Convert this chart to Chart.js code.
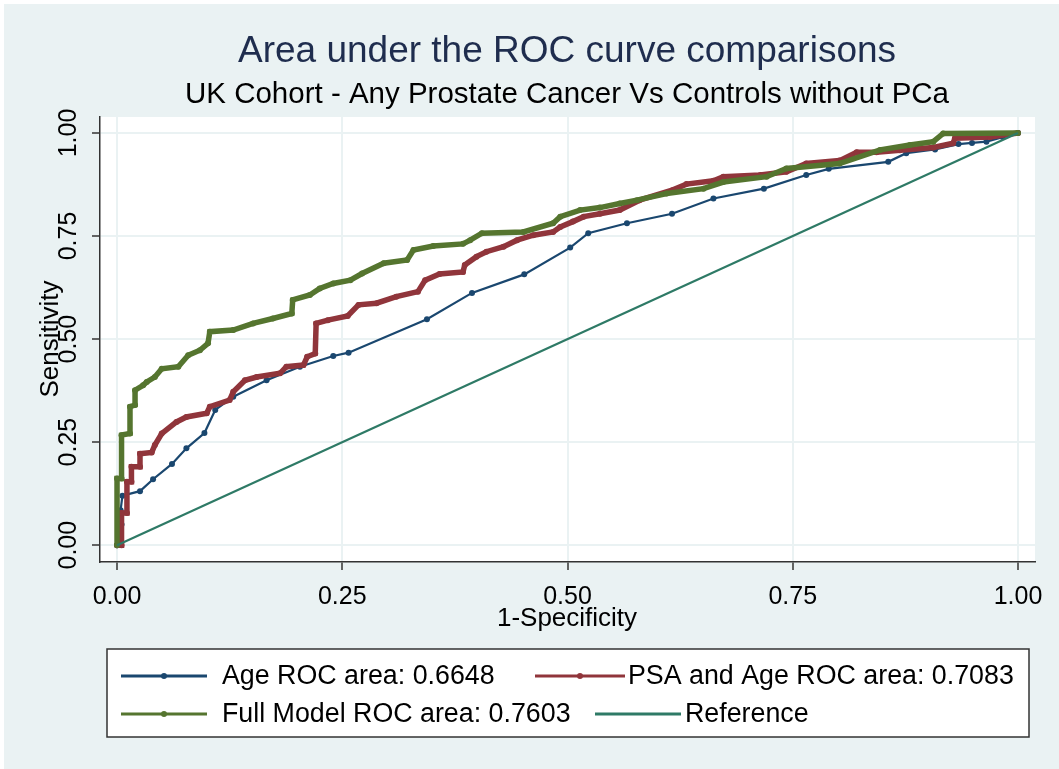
<!DOCTYPE html>
<html>
<head>
<meta charset="utf-8">
<title>Area under the ROC curve comparisons</title>
<script src="https://cdn.jsdelivr.net/npm/chart.js@4.4.1/dist/chart.umd.min.js"></script>
<style>
    html, body { margin: 0; padding: 0; background: #ffffff; }
    canvas { display: block; }
</style>
</head>
<body>
<canvas id="rocChart" width="1059" height="769"></canvas>
<script>
//data//
var xTicks = [0, 0.25, 0.5, 0.75, 1];
var yTicks = [0, 0.25, 0.5, 0.75, 1];

var ageX = [0, 0.004, 0.005, 0.004, 0.006, 0.0255, 0.040, 0.061, 0.077, 0.097, 0.109, 0.129, 0.166, 0.203, 0.240, 0.257, 0.344, 0.394, 0.452, 0.503, 0.523, 0.566, 0.616, 0.662, 0.718, 0.765, 0.790, 0.856, 0.876, 0.908, 0.934, 0.949, 0.965, 0.983, 1];
var ageY = [0, 0.025, 0.05, 0.085, 0.12, 0.131, 0.16, 0.197, 0.235, 0.272, 0.328, 0.36, 0.40, 0.433, 0.459, 0.467, 0.548, 0.612, 0.657, 0.722, 0.757, 0.781, 0.804, 0.841, 0.865, 0.898, 0.913, 0.930, 0.951, 0.960, 0.973, 0.976, 0.979, 0.99, 1];

var psaX = [0, 0.005, 0.005, 0.011, 0.011, 0.016, 0.016, 0.0255, 0.0255, 0.0385, 0.042, 0.0496, 0.066, 0.077, 0.0996, 0.103, 0.125, 0.129, 0.142, 0.155, 0.181, 0.188, 0.207, 0.211, 0.22, 0.221, 0.234, 0.256, 0.268, 0.288, 0.310, 0.334, 0.342, 0.358, 0.384, 0.386, 0.399, 0.410, 0.429, 0.444, 0.462, 0.484, 0.492, 0.506, 0.518, 0.536, 0.558, 0.580, 0.617, 0.632, 0.662, 0.673, 0.714, 0.743, 0.765, 0.802, 0.821, 0.843, 0.869, 0.906, 0.928, 0.930, 0.969, 1];
var psaY = [0, 0, 0.078, 0.078, 0.154, 0.154, 0.19, 0.19, 0.222, 0.225, 0.243, 0.271, 0.299, 0.311, 0.32, 0.336, 0.352, 0.372, 0.40, 0.408, 0.417, 0.433, 0.437, 0.457, 0.465, 0.538, 0.546, 0.556, 0.583, 0.587, 0.603, 0.615, 0.643, 0.658, 0.663, 0.68, 0.70, 0.712, 0.724, 0.740, 0.752, 0.760, 0.772, 0.785, 0.797, 0.804, 0.813, 0.837, 0.862, 0.876, 0.884, 0.894, 0.898, 0.906, 0.926, 0.933, 0.953, 0.953, 0.958, 0.965, 0.975, 0.987, 0.99, 1];

var fullX = [0, 0, 0.005, 0.005, 0.0144, 0.0144, 0.02, 0.02, 0.029, 0.033, 0.042, 0.0496, 0.068, 0.079, 0.092, 0.101, 0.103, 0.129, 0.151, 0.173, 0.194, 0.195, 0.214, 0.225, 0.240, 0.259, 0.272, 0.296, 0.322, 0.329, 0.351, 0.384, 0.392, 0.405, 0.451, 0.484, 0.492, 0.514, 0.536, 0.558, 0.577, 0.610, 0.651, 0.673, 0.721, 0.743, 0.802, 0.847, 0.880, 0.906, 0.917, 1];
var fullY = [0, 0.162, 0.162, 0.267, 0.271, 0.336, 0.34, 0.376, 0.388, 0.396, 0.408, 0.428, 0.433, 0.461, 0.473, 0.49, 0.518, 0.522, 0.538, 0.550, 0.562, 0.595, 0.607, 0.623, 0.635, 0.643, 0.659, 0.684, 0.692, 0.716, 0.726, 0.731, 0.740, 0.757, 0.760, 0.781, 0.797, 0.813, 0.819, 0.829, 0.837, 0.853, 0.865, 0.881, 0.894, 0.914, 0.926, 0.959, 0.971, 0.979, 0.999, 1];

var refX = [0, 1];
var refY = [0, 1];

var seriesNames = ['Age ROC area: 0.6648', 'PSA and Age ROC area: 0.7083', 'Full Model ROC area: 0.7603', 'Reference'];
var seriesColors = ['#1a476f', '#90353b', '#55752f', '#2e7a66'];

function pairs(xs, ys) {
    return xs.map(function(v, i) { return { x: v, y: ys[i] }; });
}

var bgColor = '#eaf2f3';
var fontFam = 'Arial, "Liberation Sans", Helvetica, sans-serif';

//frame, titles, tick labels and legend drawn around the plot//
var stataFrame = {
    id: 'stataFrame',
    beforeDraw: function(chart) {
        var c = chart.ctx, a = chart.chartArea;
        c.save();
        c.fillStyle = '#ffffff';
        c.fillRect(0, 0, chart.width, chart.height);
        c.fillStyle = bgColor;
        c.fillRect(4, 4, chart.width - 4, chart.height - 4);
        c.fillStyle = '#ffffff';
        c.fillRect(a.left, a.top, a.right - a.left, a.bottom - a.top);
        c.restore();
    },
    afterDraw: function(chart) {
        var c = chart.ctx;
        var xs = chart.scales.x, ys = chart.scales.y;
        c.save();
        c.textAlign = 'center';
        c.textBaseline = 'middle';

        // titles
        c.fillStyle = '#1f2d4e';
        c.font = '37px ' + fontFam;
        c.fillText('Area under the ROC curve comparisons', 567, 52);
        c.fillStyle = '#000000';
        c.font = '29.5px ' + fontFam;
        c.fillText('UK Cohort - Any Prostate Cancer Vs Controls without PCa', 567, 95);

        // x tick labels
        c.font = '25px ' + fontFam;
        xTicks.forEach(function(t) {
            c.fillText(t.toFixed(2), xs.getPixelForValue(t), 597);
        });
        // y tick labels, rotated
        yTicks.forEach(function(t) {
            c.save();
            c.translate(69, ys.getPixelForValue(t));
            c.rotate(-Math.PI / 2);
            c.fillText(t.toFixed(2), 0, 0);
            c.restore();
        });

        // axis titles
        c.font = '26px ' + fontFam;
        c.fillText('1-Specificity', 567, 619);
        c.save();
        c.translate(51, 339);
        c.rotate(-Math.PI / 2);
        c.fillText('Sensitivity', 0, 0);
        c.restore();

        // legend box
        c.fillStyle = '#ffffff';
        c.fillRect(107, 649, 922, 88);
        c.strokeStyle = '#333333';
        c.lineWidth = 1.5;
        c.strokeRect(107, 649, 922, 88);

        var items = [
            { x0: 121, x1: 207, tx: 222, y: 676, dot: true },
            { x0: 535, x1: 625, tx: 628, y: 676, dot: true },
            { x0: 121, x1: 207, tx: 222, y: 714, dot: true },
            { x0: 595, x1: 681, tx: 685, y: 714, dot: false }
        ];
        c.font = '26.8px ' + fontFam;
        c.textAlign = 'left';
        items.forEach(function(it, i) {
            c.strokeStyle = seriesColors[i];
            c.lineWidth = 3;
            c.beginPath();
            c.moveTo(it.x0, it.y);
            c.lineTo(it.x1, it.y);
            c.stroke();
            if (it.dot) {
                c.fillStyle = seriesColors[i];
                c.beginPath();
                c.arc((it.x0 + it.x1) / 2, it.y, 3, 0, Math.PI * 2);
                c.fill();
            }
            c.fillStyle = '#000000';
            c.fillText(seriesNames[i], it.tx, it.y + 1);
        });
        c.restore();
    }
};

var ctx = document.getElementById('rocChart').getContext('2d');
var rocChart = new Chart(ctx, {
    type: 'scatter',
    data: {
        datasets: [{
            label: seriesNames[0],
            data: pairs(ageX, ageY),
            showLine: true,
            borderColor: seriesColors[0],
            backgroundColor: seriesColors[0],
            borderWidth: 2.2,
            pointRadius: 3,
            pointBorderWidth: 0,
            order: 3
        }, {
            label: seriesNames[1],
            data: pairs(psaX, psaY),
            showLine: true,
            borderColor: seriesColors[1],
            backgroundColor: seriesColors[1],
            borderWidth: 5.5,
            pointRadius: 3,
            pointBorderWidth: 0,
            order: 2
        }, {
            label: seriesNames[2],
            data: pairs(fullX, fullY),
            showLine: true,
            borderColor: seriesColors[2],
            backgroundColor: seriesColors[2],
            borderWidth: 5.5,
            pointRadius: 3,
            pointBorderWidth: 0,
            order: 1
        }, {
            label: seriesNames[3],
            data: pairs(refX, refY),
            showLine: true,
            borderColor: seriesColors[3],
            backgroundColor: seriesColors[3],
            borderWidth: 2.2,
            pointRadius: 0,
            order: 0
        }]
    },
    options: {
        responsive: false,
        animation: false,
        devicePixelRatio: 1,
        layout: { padding: { left: 0, right: 24, top: 117, bottom: 0 } },
        plugins: {
            legend: { display: false },
            tooltip: { enabled: false },
            title: { display: false }
        },
        scales: {
            x: {
                type: 'linear',
                min: -0.0189,
                max: 1.0189,
                afterBuildTicks: function(s) { s.ticks = xTicks.map(function(v) { return { value: v }; }); },
                afterFit: function(s) { s.height = 207; },
                ticks: { display: false },
                grid: { color: bgColor, lineWidth: 2, drawTicks: true, tickLength: 8, tickColor: '#333333', tickWidth: 1.5 },
                border: { display: true, color: '#333333', width: 1.5 }
            },
            y: {
                type: 'linear',
                min: -0.0408,
                max: 1.0388,
                afterBuildTicks: function(s) { s.ticks = yTicks.map(function(v) { return { value: v }; }); },
                afterFit: function(s) { s.width = 100; },
                ticks: { display: false },
                grid: { color: bgColor, lineWidth: 2, drawTicks: true, tickLength: 8, tickColor: '#333333', tickWidth: 1.5 },
                border: { display: true, color: '#333333', width: 1.5 }
            }
        }
    },
    plugins: [stataFrame]
});

document.title = "Area under the ROC curve comparisons";
</script>
</body>
</html>
